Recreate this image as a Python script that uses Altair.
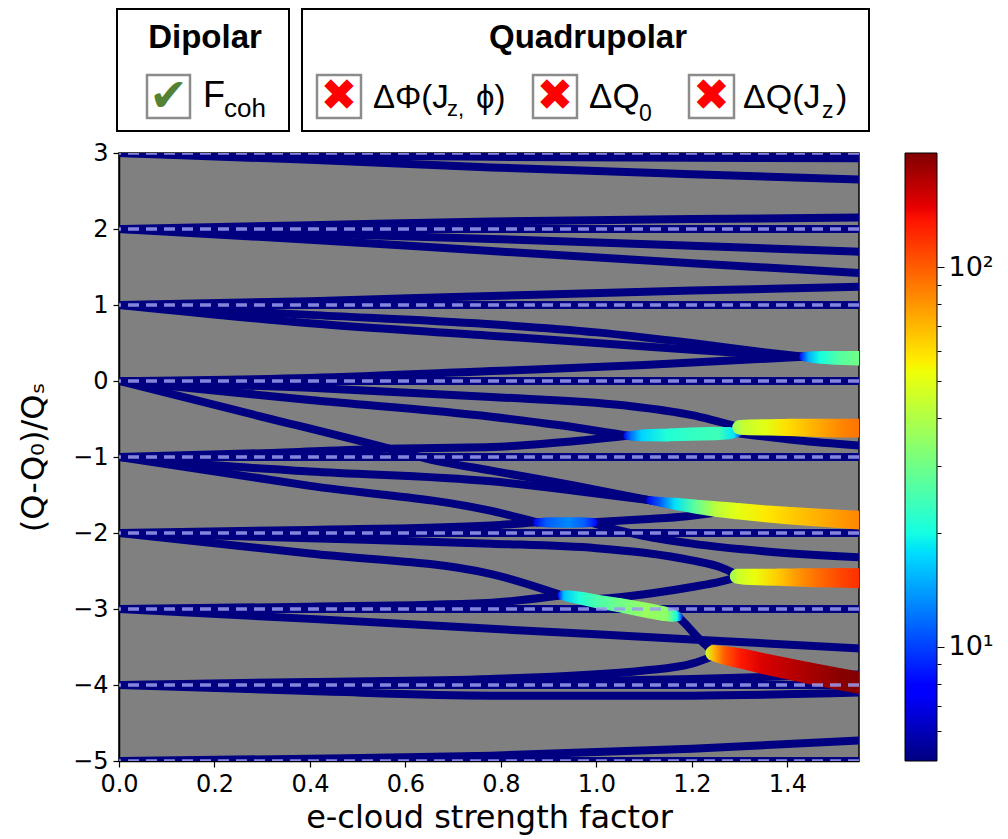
import math
import altair as alt
import pandas as pd

# ---------------- axis ranges ----------------
X_MAX = 1.55
Y_MIN, Y_MAX = -5, 3
G_MIN, G_MAX = 5, 200            # colour-bar range (growth rate, log)
x_ticks = [0.0, 0.2, 0.4, 0.6, 0.8, 1.0, 1.2, 1.4]
y_ticks = [-5, -4, -3, -2, -1, 0, 1, 2, 3]
sidebands = [-5, -4, -3, -2, -1, 0, 1, 2, 3]
cbar_ticks = [6, 7, 8, 9, 10, 20, 30, 40, 50, 60, 70, 80, 90, 100]

# ---------------- stable (navy) branches: (strength, tune) ----------------
s_p3_flat = [(0, 3.0), (1.55, 3.0)]
s_p3_a = [(0, 3.0), (0.40, 2.97), (0.78, 2.95), (1.55, 2.93)]
s_p3_b = [(0, 3.0), (0.40, 2.91), (0.78, 2.81), (1.20, 2.72), (1.55, 2.65)]

s_p2_flat = [(0, 2.0), (1.55, 2.0)]
s_p2_up = [(0, 2.0), (0.40, 2.05), (0.78, 2.10), (1.20, 2.13), (1.55, 2.15)]
s_p2_a = [(0, 2.0), (0.40, 1.94), (0.78, 1.87), (1.20, 1.78), (1.55, 1.70)]
s_p2_b = [(0, 2.0), (0.40, 1.86), (0.78, 1.71), (1.20, 1.55), (1.55, 1.42)]

s_p1_flat = [(0, 1.0), (1.55, 1.0)]
s_p1_up = [(0, 1.0), (0.40, 1.05), (0.78, 1.12), (1.20, 1.19), (1.55, 1.24)]
s_p1_a = [(0, 1.0), (0.40, 0.87), (0.77, 0.75), (1.00, 0.64), (1.20, 0.50), (1.35, 0.38), (1.434, 0.32)]
s_p1_b = [(0, 1.0), (0.40, 0.76), (0.77, 0.60), (1.00, 0.50), (1.20, 0.41), (1.35, 0.35), (1.434, 0.32)]

s_0_flat = [(0, 0.0), (1.55, 0.0)]
s_0_up = [(0, 0.0), (0.40, 0.04), (0.78, 0.13), (1.10, 0.21), (1.434, 0.32)]
s_0_a = [(0, 0.0), (0.40, -0.09), (0.78, -0.21), (1.056, -0.32), (1.20, -0.45), (1.295, -0.60)]
s_0_b = [(0, 0.0), (0.40, -0.25), (0.78, -0.47), (0.92, -0.58), (1.065, -0.72)]
s_0_steep = [(0, 0.0), (0.28, -0.44), (0.56, -0.88), (0.644, -1.02), (0.78, -1.18), (0.95, -1.37), (1.113, -1.57)]

s_m1_flat = [(0, -1.0), (1.55, -1.0)]
s_m1_up = [(0, -1.0), (0.30, -0.95), (0.56, -0.89), (0.78, -0.87), (0.92, -0.81), (1.065, -0.72)]
s_m1_exit = [(1.30, -0.69), (1.42, -0.78), (1.55, -0.85)]
s_m1_a = [(0, -1.0), (0.20, -1.11), (0.40, -1.19), (0.78, -1.32), (0.95, -1.44), (1.113, -1.57)]
s_m1_b = [(0, -1.0), (0.40, -1.38), (0.78, -1.71), (0.876, -1.86)]

s_m2_flat = [(0, -2.0), (1.55, -2.0)]
s_m2_up = [(0, -2.0), (0.40, -1.96), (0.78, -1.90), (0.876, -1.86)]
s_m2_rise = [(0.993, -1.86), (1.10, -1.82), (1.19, -1.78), (1.24, -1.74)]
s_m2_fall = [(0.993, -1.87), (1.05, -1.97), (1.10, -2.04), (1.20, -2.14), (1.35, -2.24), (1.55, -2.32)]
s_m2_a = [(0, -2.0), (0.40, -2.07), (0.78, -2.14), (1.00, -2.20), (1.10, -2.26), (1.20, -2.36), (1.26, -2.45), (1.295, -2.55)]
s_m2_b = [(0, -2.0), (0.40, -2.27), (0.78, -2.54), (0.928, -2.82)]

s_m3_flat = [(0, -3.0), (1.55, -3.0)]
s_m3_up = [(0, -3.0), (0.40, -2.97), (0.77, -2.92), (0.928, -2.82)]
s_m3_under = [(1.00, -2.87), (1.043, -2.85), (1.12, -2.79), (1.20, -2.71), (1.26, -2.64), (1.295, -2.58)]
s_m3_link = [(1.171, -3.10), (1.19, -3.22), (1.21, -3.36), (1.23, -3.48), (1.245, -3.57)]
s_m3_a = [(0, -3.0), (0.40, -3.13), (0.78, -3.26), (1.20, -3.40), (1.55, -3.52)]

s_m4_flat = [(0, -4.0), (1.55, -4.0)]
s_m4_up = [(0, -4.0), (0.40, -3.96), (0.78, -3.92), (1.10, -3.81), (1.20, -3.72), (1.245, -3.62)]
s_m4_slow = [(0, -4.0), (0.78, -3.97), (1.20, -3.92), (1.55, -3.86)]
s_m4_down = [(0, -4.0), (0.40, -4.08), (0.78, -4.14), (1.20, -4.14), (1.55, -4.10)]

s_m5_flat = [(0, -5.0), (1.55, -5.0)]
s_m5_up = [(0, -5.0), (0.40, -4.97), (0.78, -4.93), (1.20, -4.84), (1.55, -4.73)]

# ---------------- unstable (coloured) branches: (strength, tune, growth) ----------------
u_p0 = [(1.434, 0.32, 8), (1.45, 0.315, 15), (1.47, 0.31, 20), (1.50, 0.305, 26), (1.55, 0.30, 32)]
u_m1_a = [(1.065, -0.72, 7), (1.08, -0.72, 12), (1.10, -0.715, 17), (1.15, -0.71, 21), (1.20, -0.70, 23),
          (1.25, -0.69, 24), (1.28, -0.685, 18), (1.295, -0.68, 9)]
u_m1_b = [(1.30, -0.61, 34), (1.32, -0.61, 44), (1.36, -0.61, 50), (1.40, -0.61, 60), (1.45, -0.615, 72),
          (1.50, -0.62, 85), (1.55, -0.62, 95)]
u_m2_blue = [(0.876, -1.86, 7), (0.90, -1.86, 11), (0.94, -1.86, 13), (0.97, -1.86, 11), (0.993, -1.86, 8)]
u_m2_big = [(1.113, -1.57, 7), (1.14, -1.595, 11), (1.17, -1.62, 18), (1.21, -1.655, 28), (1.25, -1.685, 42),
            (1.29, -1.71, 50), (1.35, -1.745, 58), (1.40, -1.77, 65), (1.45, -1.79, 72), (1.50, -1.81, 80),
            (1.55, -1.83, 88)]
u_m3_green = [(0.928, -2.82, 8), (0.94, -2.83, 16), (0.97, -2.86, 21), (1.00, -2.90, 25), (1.05, -2.95, 30),
              (1.10, -3.01, 36), (1.14, -3.06, 34), (1.16, -3.085, 20), (1.171, -3.10, 9)]
u_m3_orange = [(1.295, -2.57, 36), (1.31, -2.575, 45), (1.34, -2.58, 52), (1.38, -2.58, 64), (1.42, -2.585, 80),
               (1.46, -2.59, 95), (1.50, -2.59, 110), (1.55, -2.595, 125)]
u_m4_red = [(1.245, -3.58, 45), (1.26, -3.60, 70), (1.28, -3.625, 100), (1.31, -3.66, 130), (1.35, -3.72, 150),
            (1.40, -3.785, 165), (1.45, -3.85, 180), (1.50, -3.91, 195), (1.55, -3.97, 200)]


# ---------------- jet colour map ----------------
def _interp(t, pts):
    for (a, va), (b, vb) in zip(pts[:-1], pts[1:]):
        if a <= t <= b:
            return vb if b == a else va + (vb - va) * (t - a) / (b - a)
    return pts[-1][1]


def jet(t):
    t = min(1.0, max(0.0, t))
    r = _interp(t, [(0, 0), (0.35, 0), (0.66, 1), (0.89, 1), (1, 0.5)])
    g = _interp(t, [(0, 0), (0.125, 0), (0.375, 1), (0.64, 1), (0.91, 0), (1, 0)])
    b = _interp(t, [(0, 0.5), (0.11, 1), (0.34, 1), (0.65, 0), (1, 0)])
    return "#%02x%02x%02x" % (round(r * 255), round(g * 255), round(b * 255))


def growth_to_t(g):
    return math.log(g / G_MIN) / math.log(G_MAX / G_MIN)


JET_T = [0, 0.11, 0.125, 0.34, 0.35, 0.375, 0.5, 0.64, 0.65, 0.66, 0.89, 0.91, 1]
width_scale = alt.Scale(type="log", domain=[G_MIN, G_MAX], range=[7, 22], clamp=True)

NAVY = jet(0)
FONT = "DejaVu Sans"

xs = alt.Scale(domain=[0, X_MAX], nice=False, zero=False)
ys = alt.Scale(domain=[Y_MIN, Y_MAX], nice=False, zero=False)

# ---------------- stable branches ----------------
stable_list = [s_p3_flat, s_p3_a, s_p3_b, s_p2_flat, s_p2_up, s_p2_a, s_p2_b,
               s_p1_flat, s_p1_up, s_p1_a, s_p1_b, s_0_flat, s_0_up, s_0_a, s_0_b, s_0_steep,
               s_m1_flat, s_m1_up, s_m1_exit, s_m1_a, s_m1_b,
               s_m2_flat, s_m2_up, s_m2_rise, s_m2_fall, s_m2_a, s_m2_b,
               s_m3_flat, s_m3_up, s_m3_under, s_m3_link, s_m3_a,
               s_m4_flat, s_m4_up, s_m4_slow, s_m4_down, s_m5_flat, s_m5_up]
rows = []
for bi, pts in enumerate(stable_list):
    for oi, (x, y) in enumerate(pts):
        rows.append({"branch": bi, "order": oi, "x": x, "y": y})
stable_df = pd.DataFrame(rows)

stable = alt.Chart(stable_df).mark_line(
    color=NAVY, strokeWidth=8, strokeCap="round", strokeJoin="round", interpolate="monotone", clip=True
).encode(
    x=alt.X("x:Q", scale=xs, axis=alt.Axis(values=x_ticks, format=".1f", title="e-cloud strength factor",
                                           tickSize=6, tickWidth=1.2, labelPadding=5, titlePadding=6,
                                           labelFlush=False, labelOverlap=False, grid=False)),
    y=alt.Y("y:Q", scale=ys, axis=alt.Axis(values=y_ticks, format="d", title="(Q-Q₀)/Qₛ",
                                           tickSize=6, tickWidth=1.2, labelPadding=5, titlePadding=22,
                                           labelFlush=False, labelOverlap=False, grid=False)),
    detail="branch:N",
    order="order:Q",
)

# ---------------- unstable branches: trails, width from growth, jet gradient along x ----------------
unstable_list = [u_p0, u_m1_a, u_m1_b, u_m2_blue, u_m2_big, u_m3_green, u_m3_orange, u_m4_red]
unstable_layers = []
for pts in unstable_list:
    df = pd.DataFrame([{"order": i, "x": x, "y": y, "g": g} for i, (x, y, g) in enumerate(pts)])
    x0, x1 = pts[0][0], pts[-1][0]
    stops = [alt.GradientStop(offset=(x - x0) / (x1 - x0), color=jet(growth_to_t(g))) for x, _, g in pts]
    grad = alt.Gradient(gradient="linear", x1=0, x2=1, y1=0, y2=0, stops=stops)
    unstable_layers.append(
        alt.Chart(df).mark_trail(fill=grad, color=grad, clip=True).encode(
            x="x:Q", y="y:Q", order="order:Q",
            size=alt.Size("g:Q", scale=width_scale, legend=None),
        )
    )

dashed = alt.Chart(pd.DataFrame({"q": sidebands})).mark_rule(
    strokeDash=[11, 7], strokeWidth=3.5, color="#9c9cee", opacity=0.85, clip=True
).encode(y="q:Q")

main = alt.layer(stable, *unstable_layers, dashed)

# ---------------- colour bar ----------------
gradient = alt.Gradient(gradient="linear", x1=0, x2=0, y1=1, y2=0,
                        stops=[alt.GradientStop(offset=t, color=jet(t)) for t in JET_T])
cb_df = pd.DataFrame({"lo": [G_MIN], "hi": [G_MAX]})
colorbar = alt.Chart(cb_df).mark_rect(fill=gradient, stroke="black", strokeWidth=1).encode(
    x=alt.value(786), x2=alt.value(818),
    y=alt.Y("lo:Q", scale=alt.Scale(type="log", domain=[G_MIN, G_MAX], nice=False),
            axis=alt.Axis(orient="right", offset=78, values=cbar_ticks, domain=False, grid=False, title=None,
                          labelExpr="datum.value == 10 ? '10¹' : (datum.value == 100 ? '10²' : '')",
                          tickSize={"condition": {"test": "datum.value == 10 || datum.value == 100", "value": 7},
                                    "value": 4},
                          tickWidth=1, labelPadding=4, labelFontSize=27, labelOverlap=False, labelFlush=False)),
    y2="hi:Q",
)

# ---------------- header (legend boxes) ----------------
one = pd.DataFrame({"k": [0]})


def box(x0, x1, y0, y1, stroke, sw):
    return alt.Chart(one).mark_rect(stroke=stroke, strokeWidth=sw, fill="white").encode(
        x=alt.value(x0), x2=alt.value(x1), y=alt.value(y0), y2=alt.value(y1))


def txt(s, x, y, size, font="Liberation Sans", weight="normal", color="black", align="left", baseline="alphabetic"):
    return alt.Chart(one).mark_text(text=s, fontSize=size, font=font, fontWeight=weight, color=color,
                                    align=align, baseline=baseline).encode(x=alt.value(x), y=alt.value(y))


GRAY_BOX = "#8c8c8c"
header = [
    box(-2, 170, -144, -22, "black", 2),
    box(183, 750, -144, -22, "black", 2),
    txt("Dipolar", 86, -105, 33, weight="bold", align="center"),
    txt("Quadrupolar", 469, -105, 33, weight="bold", align="center"),
    box(28, 71, -78, -35, GRAY_BOX, 2.5),
    txt("✔", 49.5, -56, 46, font="DejaVu Sans", color="#548235", align="center", baseline="middle"),
    txt("F", 84, -46, 36),
    txt("coh", 105, -36, 26),
    box(198, 242, -78, -35, GRAY_BOX, 2.5),
    txt("✖", 220, -56, 44, font="DejaVu Sans", color="#ff0000", align="center", baseline="middle"),
    txt("ΔΦ(J", 254, -45, 33),
    txt("z,", 328, -37, 22),
    txt("ϕ)", 357, -45, 33, font="Liberation Sans, DejaVu Sans"),
    box(414, 458, -78, -35, GRAY_BOX, 2.5),
    txt("✖", 436, -56, 44, font="DejaVu Sans", color="#ff0000", align="center", baseline="middle"),
    txt("ΔQ", 470, -45, 35),
    txt("0", 520, -32, 23),
    box(570, 615, -78, -35, GRAY_BOX, 2.5),
    txt("✖", 592.5, -56, 44, font="DejaVu Sans", color="#ff0000", align="center", baseline="middle"),
    txt("ΔQ(J", 624, -45, 34),
    txt("z", 703, -35, 23),
    txt(")", 717, -45, 34),
]

chart = alt.layer(main, colorbar, *header).resolve_scale(y="independent").properties(
    width=740, height=608,
    autosize=alt.AutoSizeParams(type="none"),
    padding={"left": 119, "top": 153, "right": 149, "bottom": 78},
).configure_view(
    fill="#808080", stroke="black", strokeWidth=1.5
).configure_axis(
    labelFont=FONT, titleFont=FONT, labelFontSize=24, titleFontSize=32, titleFontWeight="normal",
    labelColor="black", titleColor="black", tickColor="black", domainColor="black", domainWidth=1.5,
)

chart.save("out.html", embed_options={"renderer": "svg", "actions": False})
